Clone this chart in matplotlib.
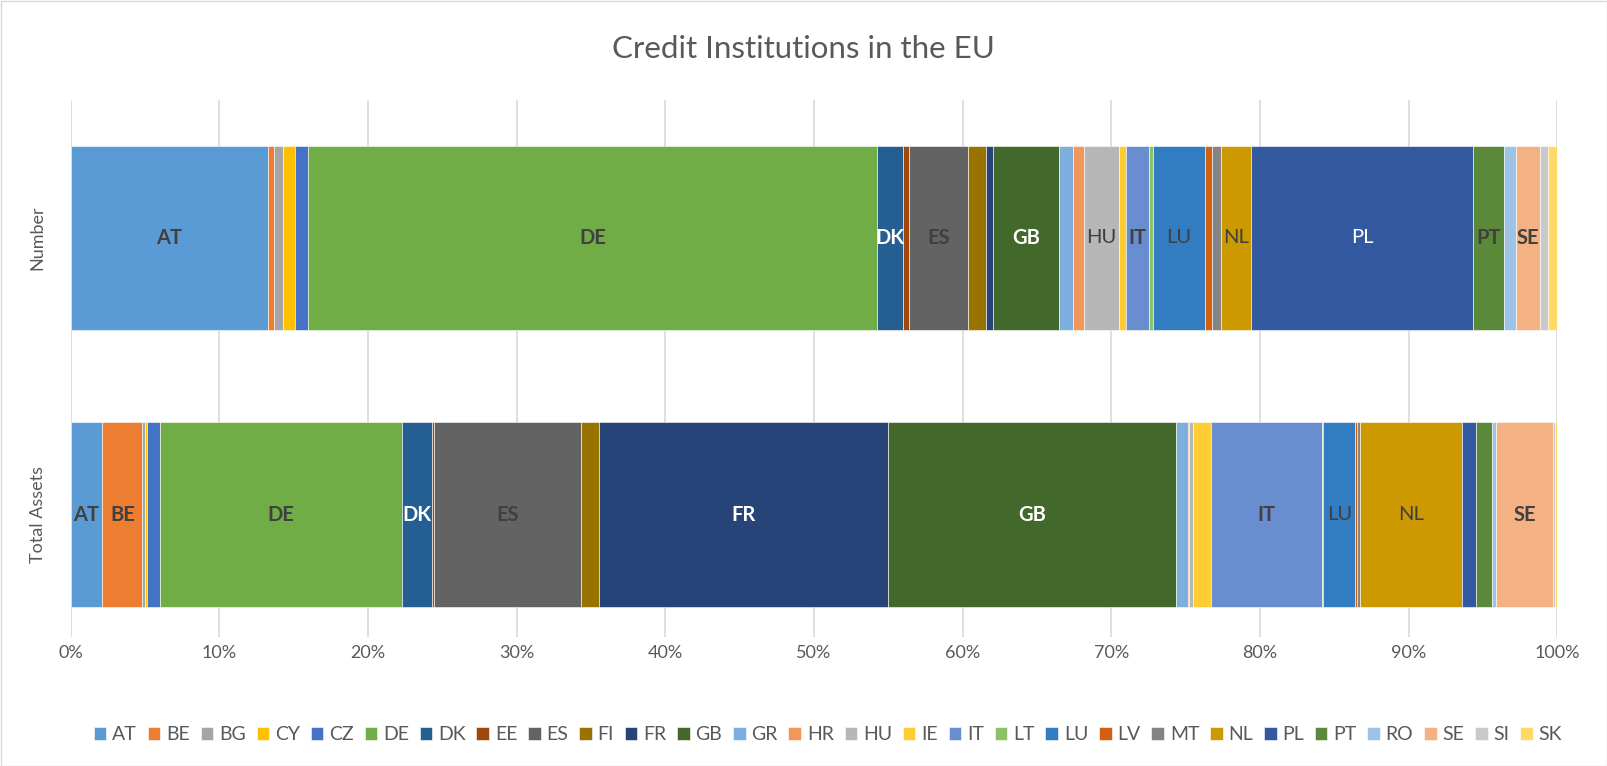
"""Credit institutions in the EU: 100% stacked bars by country."""
import matplotlib
matplotlib.use("Agg")
import matplotlib.pyplot as plt
import numpy as np
from matplotlib.patches import Rectangle
from matplotlib.ticker import PercentFormatter

plt.rcParams["font.family"] = ["Lato", "DejaVu Sans"]

COUNTRIES = ["AT", "BE", "BG", "CY", "CZ", "DE", "DK", "EE", "ES", "FI",
             "FR", "GB", "GR", "HR", "HU", "IE", "IT", "LT", "LU", "LV",
             "MT", "NL", "PL", "PT", "RO", "SE", "SI", "SK"]

# shares in %
NUMBER = [13.30, 0.40, 0.60, 0.80, 0.90, 38.25, 1.80, 0.40, 3.97, 1.17,
          0.49, 4.46, 0.94, 0.74, 2.33, 0.49, 1.55, 0.27, 3.46, 0.51,
          0.61, 1.98, 14.98, 2.07, 0.79, 1.63, 0.52, 0.65]
TOTAL_ASSETS = [2.13, 2.69, 0.16, 0.13, 0.90, 16.28, 2.04, 0.13, 9.89, 1.17,
                19.48, 19.35, 0.79, 0.09, 0.27, 1.19, 7.47, 0.07, 2.17, 0.11,
                0.18, 6.91, 0.90, 1.12, 0.27, 3.83, 0.09, 0.17]

CATEGORIES = ["Total Assets", "Number"]

# Office theme colours, one per series
COLORS = ["#5B9BD5", "#ED7D31", "#A5A5A5", "#FFC000", "#4472C4", "#70AD47",
          "#255E91", "#9E480E", "#636363", "#997300", "#264478", "#43682B",
          "#7CAFDD", "#F1975A", "#B7B7B7", "#FFCD33", "#698ED0", "#8CC168",
          "#327DC2", "#D26012", "#848484", "#CC9A00", "#335AA1", "#5A8A39",
          "#9DC3E6", "#F4B183", "#C9C9C9", "#FFD966"]

DARK = "#404040"
# which segments carry a label: country -> (weight, colour)
NUMBER_LABELS = {"AT": ("bold", DARK), "DE": ("bold", DARK), "DK": ("bold", "white"),
                 "ES": ("bold", DARK), "GB": ("bold", "white"), "HU": ("normal", DARK),
                 "IT": ("bold", DARK), "LU": ("normal", DARK), "NL": ("normal", DARK),
                 "PL": ("normal", "white"), "PT": ("bold", DARK), "SE": ("bold", DARK)}
ASSET_LABELS = {"AT": ("bold", DARK), "BE": ("bold", DARK), "DE": ("bold", DARK),
                "DK": ("bold", "white"), "ES": ("bold", DARK), "FR": ("bold", "white"),
                "GB": ("bold", "white"), "IT": ("bold", DARK), "LU": ("normal", DARK),
                "NL": ("normal", DARK), "SE": ("bold", DARK)}

W, H = 1607, 766
fig = plt.figure(figsize=(W / 100, H / 100), dpi=100)
ax = fig.add_axes([70.7 / W, 1 - 637 / H, (1557.3 - 70.7) / W, (637 - 100) / H])

data = np.array([TOTAL_ASSETS, NUMBER])
data = data / data.sum(axis=1, keepdims=True) * 100
ypos = np.arange(len(CATEGORIES))
left = np.zeros(len(CATEGORIES))
bar_h = 0.666

for i, country in enumerate(COUNTRIES):
    vals = data[:, i]
    ax.barh(ypos, vals, left=left, height=bar_h, color=COLORS[i],
            edgecolor="white", linewidth=0.4, label=country, zorder=3)
    for row, labels in ((0, ASSET_LABELS), (1, NUMBER_LABELS)):
        if country in labels:
            weight, col = labels[country]
            ax.text(left[row] + vals[row] / 2, ypos[row], country, ha="center",
                    va="center", fontsize=14.5, fontweight=weight, color=col, zorder=4)
    left += vals

ax.set_xlim(0, 100)
ax.set_ylim(-0.443, 1.499)
ax.xaxis.set_major_formatter(PercentFormatter(decimals=0))
ax.set_xticks(np.arange(0, 101, 10))
ax.grid(axis="x", color="#D9D9D9", linewidth=1.2, zorder=0)
ax.set_yticks(ypos, CATEGORIES, rotation=90, va="center")
ax.tick_params(axis="both", length=0, labelsize=13, labelcolor="#595959")
ax.tick_params(axis="x", pad=6)
ax.tick_params(axis="y", pad=18)
for s in ax.spines.values():
    s.set_visible(False)

fig.suptitle("Credit Institutions in the EU", y=1 - 49 / H, va="center",
             fontsize=22.5, color="#595959")

fig.legend(loc="center", bbox_to_anchor=(828 / W, 1 - 735 / H), ncol=len(COUNTRIES),
           frameon=False, fontsize=14, handlelength=0.65, handleheight=0.65,
           handletextpad=0.3, columnspacing=0.55, labelcolor="#595959")

fig.patches.append(Rectangle((0.5 / W, 0.5 / H), 1 - 1 / W, 1 - 1 / H,
                             transform=fig.transFigure, fill=False,
                             edgecolor="#D9D9D9", linewidth=1))

fig.savefig("out.png", dpi=100)
plt.close(fig)
